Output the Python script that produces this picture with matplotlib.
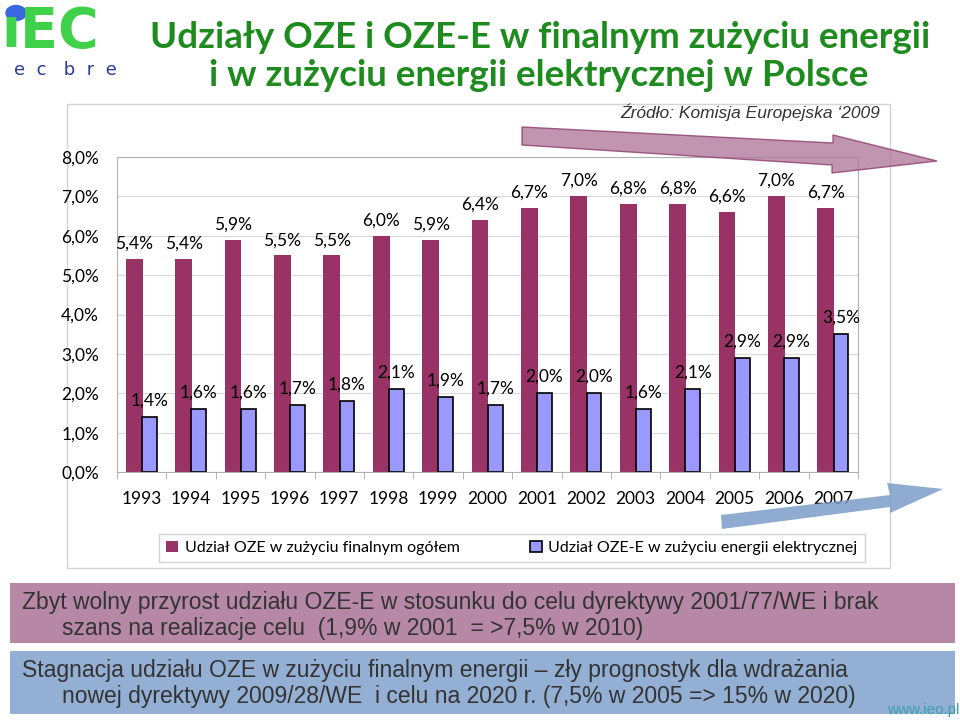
import matplotlib
matplotlib.use('Agg')
import matplotlib.pyplot as plt
import numpy as np
from matplotlib.patches import Rectangle, Polygon, Circle
from matplotlib.ticker import FuncFormatter, FixedLocator

years = ['1993', '1994', '1995', '1996', '1997', '1998', '1999', '2000',
         '2001', '2002', '2003', '2004', '2005', '2006', '2007']
oze_total = [5.4, 5.4, 5.9, 5.5, 5.5, 6.0, 5.9, 6.4, 6.7, 7.0, 6.8, 6.8, 6.6, 7.0, 6.7]
oze_e = [1.4, 1.6, 1.6, 1.7, 1.8, 2.1, 1.9, 1.7, 2.0, 2.0, 1.6, 2.1, 2.9, 2.9, 3.5]
y_ticks = [0, 1, 2, 3, 4, 5, 6, 7, 8]

legend_labels = ['Udział OZE w zużyciu finalnym ogółem',
                 'Udział OZE-E w zużyciu energii elektrycznej']
title_lines = ['Udziały OZE i OZE-E w finalnym zużyciu energii',
               'i w zużyciu energii elektrycznej w Polsce']
source_text = 'Źródło: Komisja Europejska \u20182009'
box1_lines = ['Zbyt wolny przyrost udziału OZE-E w stosunku do celu dyrektywy 2001/77/WE i brak',
              'szans na realizacje celu  (1,9% w 2001  = >7,5% w 2010)']
box2_lines = ['Stagnacja udziału OZE w zużyciu finalnym energii \u2013 zły prognostyk dla wdrażania',
              'nowej dyrektywy 2009/28/WE  i celu na 2020 r. (7,5% w 2005 => 15% w 2020)']

W, H = 960, 720


def fx(px):
    return px / W


def fy(py):
    return 1 - py / H


plt.rcParams['font.family'] = ['Lato', 'DejaVu Sans']
fig = plt.figure(figsize=(9.6, 7.2), dpi=100)

# ramka obszaru wykresu
fig.patches.append(Rectangle((fx(67), fy(568)), fx(890) - fx(67), fy(104) - fy(568),
                             transform=fig.transFigure, facecolor='white',
                             edgecolor='#d4d4d4', lw=1, zorder=0))

ax = fig.add_axes([fx(117), fy(472), fx(858) - fx(117), fy(157) - fy(472)])
ax.set_zorder(1)
x = np.arange(len(years))
b1 = ax.bar(x - 0.15, oze_total, width=0.34, color='#993366', zorder=2)
b2 = ax.bar(x + 0.155, oze_e, width=0.30, color='#9999ff', edgecolor='black', lw=1.2, zorder=3)

for rect, v in zip(b1, oze_total):
    ax.annotate(f'{v:.1f}%'.replace('.', ','), (rect.get_x() + rect.get_width() / 2, v),
                xytext=(0, 11), textcoords='offset points', ha='center', va='center',
                fontsize=12.5, zorder=4)
for rect, v in zip(b2, oze_e):
    ax.annotate(f'{v:.1f}%'.replace('.', ','), (rect.get_x() + rect.get_width() / 2, v),
                xytext=(0, 12), textcoords='offset points', ha='center', va='center',
                fontsize=12.5, zorder=4)

ax.set_xlim(-0.5, len(years) - 0.5)
ax.set_ylim(0, 8)
ax.set_yticks(y_ticks)
ax.yaxis.set_major_formatter(FuncFormatter(lambda v, p: f'{v:.1f}%'.replace('.', ',')))
ax.set_xticks(x)
ax.set_xticklabels(years)
ax.xaxis.set_minor_locator(FixedLocator(np.arange(-0.5, len(years), 1.0)))
ax.tick_params(axis='x', which='major', length=0, pad=14, labelsize=12.5)
ax.tick_params(axis='x', which='minor', length=5, color='#a6a6a6')
ax.tick_params(axis='y', length=0, pad=13, labelsize=12.5)
ax.grid(axis='y', color='#d9d9d9', lw=0.8, zorder=0)
ax.set_axisbelow(True)
for s in ax.spines.values():
    s.set_color('#b0b0b0')
    s.set_linewidth(0.8)

leg = fig.legend([b1, b2], legend_labels, loc='center',
                 bbox_to_anchor=(fx(512), fy(548)), ncol=2, fontsize=11.5,
                 handlelength=0.75, handleheight=0.75, handletextpad=0.4,
                 columnspacing=4.4, frameon=True, fancybox=False,
                 edgecolor='#c8c8c8', borderpad=0.45)
leg.get_frame().set_linewidth(1)
leg.set_zorder(2)

# tytuł
fig.text(fx(540), fy(38), title_lines[0], ha='center', va='center', fontsize=26.5,
         fontweight='bold', color='#1e8b1e')
fig.text(fx(539), fy(76), title_lines[1], ha='center', va='center', fontsize=26.5,
         fontweight='bold', color='#1e8b1e')
fig.text(fx(880), fy(112), source_text, ha='right', va='center', fontsize=12.5,
         style='italic', color='#333333',
         family=['Liberation Sans', 'DejaVu Sans'])

# logo
fig.text(fx(1), fy(47), '\u0131EC', ha='left', va='baseline', fontsize=40,
         fontweight='bold', color='#3fd14a', family=['DejaVu Sans'])
fig.patches.append(Circle((fx(16), fy(13)), 10 / W, transform=fig.transFigure,
                          color='#3a66e0', zorder=3))
fig.text(fx(14), fy(70), 'e  c   b  r  e', ha='left', va='center', fontsize=13,
         color='#2a3a9a', family=['DejaVu Sans'])

# strzałki
arrow1 = [(522, 127), (833, 143), (833, 135), (937, 161), (832, 173), (832, 165), (522, 145)]
fig.patches.append(Polygon([(fx(a), fy(b)) for a, b in arrow1], closed=True,
                           transform=fig.transFigure, facecolor='#b27a9c',
                           edgecolor='#8a3d6c', lw=1, alpha=0.8, zorder=5))
arrow2 = [(722, 529), (890, 507), (890, 513), (943, 489), (887, 483), (890, 495), (721, 515)]
fig.patches.append(Polygon([(fx(a), fy(b)) for a, b in arrow2], closed=True,
                           transform=fig.transFigure, facecolor='#7b9cc8',
                           edgecolor='none', alpha=0.85, zorder=5))

# ramki z komentarzem
box_font = ['Liberation Sans', 'DejaVu Sans']
fig.patches.append(Rectangle((fx(10), fy(643)), fx(955) - fx(10), fy(583) - fy(643),
                             transform=fig.transFigure, facecolor='#b688a6',
                             edgecolor='none', zorder=1))
fig.patches.append(Rectangle((fx(10), fy(714)), fx(955) - fx(10), fy(651) - fy(714),
                             transform=fig.transFigure, facecolor='#94afd4',
                             edgecolor='none', zorder=1))
fig.text(fx(22), fy(602), box1_lines[0], ha='left', va='center', fontsize=16.5,
         color='#333333', family=box_font, zorder=2)
fig.text(fx(62), fy(628), box1_lines[1], ha='left', va='center', fontsize=16.5,
         color='#333333', family=box_font, zorder=2)
fig.text(fx(22), fy(670), box2_lines[0], ha='left', va='center', fontsize=16.5,
         color='#333333', family=box_font, zorder=2)
fig.text(fx(62), fy(697), box2_lines[1], ha='left', va='center', fontsize=16.5,
         color='#333333', family=box_font, zorder=2)
fig.text(fx(959), fy(710), 'www.ieo.pl', ha='right', va='center', fontsize=11,
         color='#3a9fa8', family=box_font, zorder=3)

fig.savefig('out.png', dpi=100)
